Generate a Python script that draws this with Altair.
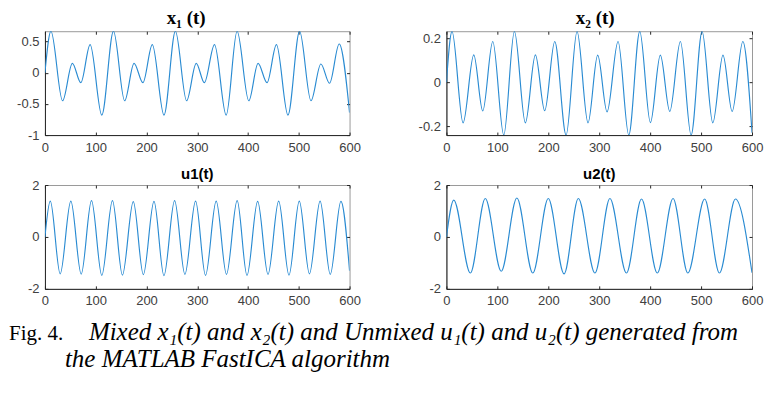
import altair as alt
import pandas as pd

# ---- data (extrema of each trace) ----
X1_T = [0, 11.8, 34.7, 54, 70.7, 89, 112, 135, 157, 175.5, 193, 211.5, 234.5, 257, 279, 298, 314,
        334, 357, 378.5, 401.5, 419.8, 437.5, 456, 478.7, 501.6, 524, 543.5, 560.6, 579.6, 600]
X1_V = [0, 0.665, -0.45, 0.15, -0.16, 0.45, -0.68, 0.665, -0.45, 0.15, -0.16, 0.45, -0.68, 0.665,
        -0.45, 0.15, -0.16, 0.45, -0.68, 0.665, -0.45, 0.15, -0.16, 0.45, -0.68, 0.665, -0.45, 0.14,
        -0.17, 0.46, -0.64]

X2_T = [0, 11, 32.7, 53.7, 71.3, 91, 112.6, 133.5, 155, 174.7, 193, 212.7, 235, 256.5, 278, 297,
        315.4, 337, 358, 379.6, 400.5, 420, 438.5, 459.4, 480.4, 502, 523, 543, 561, 582, 600]
X2_V = [0, 0.232, -0.185, 0.125, -0.131, 0.186, -0.241, 0.232, -0.185, 0.125, -0.13, 0.186, -0.241,
        0.232, -0.185, 0.124, -0.135, 0.186, -0.241, 0.232, -0.184, 0.124, -0.133, 0.186, -0.241,
        0.232, -0.185, 0.124, -0.133, 0.186, -0.23]

U1_T = [0, 10.5, 30, 51, 71.4, 91.7, 112, 133, 152.6, 174, 193.8, 214.8, 234.4, 255.4, 275.7, 296.7,
        316.3, 337.3, 357.6, 378.6, 398, 419, 439.4, 460.4, 480.7, 501, 521, 542, 562, 583, 600]
U1_V = [0, 1.38, -1.42, 1.38, -1.43, 1.40, -1.48, 1.40, -1.47, 1.36, -1.45, 1.37, -1.49, 1.40, -1.44,
        1.38, -1.48, 1.38, -1.44, 1.40, -1.48, 1.37, -1.44, 1.38, -1.47, 1.38, -1.42, 1.38, -1.44,
        1.37, -1.30]

U2_T = [0, 14.4, 47, 76.3, 107.6, 138.3, 169.6, 200, 231, 259, 291.6, 321, 353.5, 383, 414, 445,
        474, 507, 536, 567.5, 600]
U2_V = [0, 1.42, -1.39, 1.48, -1.32, 1.50, -1.39, 1.48, -1.42, 1.48, -1.39, 1.48, -1.39, 1.46,
        -1.39, 1.48, -1.39, 1.46, -1.39, 1.46, -1.38]

X_TICKS = [0, 100, 200, 300, 400, 500, 600]
X1_TICKS = [-1, -0.5, 0, 0.5]
X2_TICKS = [-0.2, 0, 0.2]
U_TICKS = [-2, 0, 2]
X1_DOMAIN = [-1, 0.665]
X2_DOMAIN = [-0.241, 0.233]
U_DOMAIN = [-2, 2]

TITLES = ["x\u2081 (t)", "x\u2082 (t)", "u1(t)", "u2(t)"]
CAP_LABEL = "Fig. 4."
CAP_LINE1 = "Mixed x\u2081(t) and x\u2082(t) and Unmixed u\u2081(t) and u\u2082(t) generated from"
CAP_LINE2 = "the MATLAB FastICA algorithm"

LINE = "#2a8bd2"
AX = "#262626"
BOX = "#9a9a9a"
LAB = "#404040"
LABEL_EXPR = "'' + datum.value"
ONE = pd.DataFrame({"a": [0]})


def panel(t, v, dom, yt, title, tfont, tsize, tdx, toff, w, h):
    df = pd.DataFrame({"t": t, "v": v})
    xs = alt.Scale(domain=[0, 600], nice=False, zero=False)
    ys = alt.Scale(domain=dom, nice=False, zero=False)
    base = alt.Chart(df)
    lab = dict(title=None, ticks=False, grid=False, domainColor=AX, domainWidth=1,
               labelColor=LAB, labelFont="Liberation Sans", labelFontSize=13,
               labelExpr=LABEL_EXPR, labelOverlap=False, minExtent=0)
    main = base.mark_line(color=LINE, strokeWidth=1.15, interpolate="monotone", clip=True).encode(
        x=alt.X("t:Q", scale=xs, axis=alt.Axis(values=X_TICKS, orient="bottom", labelPadding=6,
                                               labelFlush=False, **lab)),
        y=alt.Y("v:Q", scale=ys, axis=alt.Axis(values=yt, orient="left", labelPadding=6, **lab)),
    )
    tk = dict(labels=False, domain=False, ticks=True, tickSize=3, tickColor=AX, grid=False,
              title=None, offset=-3, minExtent=0, maxExtent=0)
    inner1 = base.mark_line(opacity=0).encode(
        x=alt.X("t:Q", scale=xs, axis=alt.Axis(values=X_TICKS, orient="top", **tk)),
        y=alt.Y("v:Q", scale=ys, axis=alt.Axis(values=yt, orient="right", **tk)),
    )
    inner2 = base.mark_line(opacity=0).encode(
        x=alt.X("t:Q", scale=xs, axis=alt.Axis(values=X_TICKS, orient="bottom", **tk)),
        y=alt.Y("v:Q", scale=ys, axis=alt.Axis(values=yt, orient="left", **tk)),
    )
    ttl = alt.Chart(ONE).mark_text(text=title, font=tfont, fontSize=tsize, fontWeight="bold",
                                   color="black", align="center", baseline="alphabetic").encode(
        x=alt.value(w / 2 + tdx), y=alt.value(-toff))
    return (
        alt.layer(main, inner1, inner2, ttl)
        .resolve_axis(x="independent", y="independent")
        .properties(width=w, height=h)
    )


p1 = panel(X1_T, X1_V, X1_DOMAIN, X1_TICKS, TITLES[0], "Liberation Serif", 19, -11, 7, 305, 104)
p2 = panel(X2_T, X2_V, X2_DOMAIN, X2_TICKS, TITLES[1], "Liberation Serif", 19, -4, 7, 306, 104)
p3 = panel(U1_T, U1_V, U_DOMAIN, U_TICKS, TITLES[2], "Liberation Sans", 15, 0, 6, 305, 104)
p4 = panel(U2_T, U2_V, U_DOMAIN, U_TICKS, TITLES[3], "Liberation Sans", 15, 0, 6, 306, 104)

cap_style = dict(font="Liberation Serif", align="left", baseline="alphabetic", color="black")
c1 = alt.Chart(ONE).mark_text(text=CAP_LABEL, fontSize=21, **cap_style).encode(
    x=alt.value(-36), y=alt.value(1))
c2 = alt.Chart(ONE).mark_text(text=CAP_LINE1, fontStyle="italic", fontSize=25, **cap_style).encode(
    x=alt.value(44), y=alt.value(1))
c3 = alt.Chart(ONE).mark_text(text=CAP_LINE2, fontStyle="italic", fontSize=25, **cap_style).encode(
    x=alt.value(20), y=alt.value(28))
cap = alt.layer(c1, c2, c3).properties(width=305, height=30,
                                       view=alt.ViewBackground(stroke="transparent"))

chart = (
    alt.concat(p1, p2, p3, p4, cap, columns=2,
               spacing=alt.RowColnumber(row=50, column=97), bounds="flush")
    .properties(padding=0, background="white")
    .configure_view(stroke=BOX, strokeWidth=1)
)

chart.save("out.html", embed_options={"renderer": "svg", "actions": False})
